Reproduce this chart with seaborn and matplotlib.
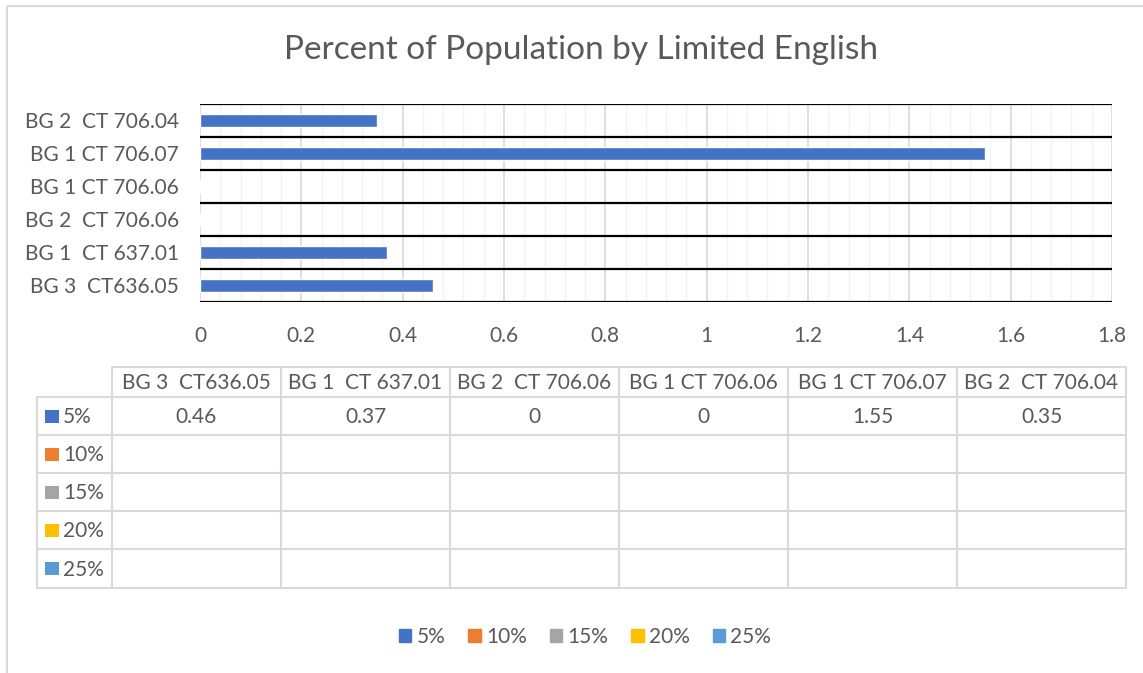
import matplotlib
matplotlib.use("Agg")
import matplotlib.pyplot as plt
from matplotlib.patches import Patch, Rectangle
from matplotlib.ticker import MultipleLocator
import seaborn as sns
import pandas as pd

# Census block groups, in table order (bottom bar first)
tracts = ["BG 3  CT636.05", "BG 1  CT 637.01", "BG 2  CT 706.06",
          "BG 1 CT 706.06", "BG 1 CT 706.07", "BG 2  CT 706.04"]
series_names = ["5%", "10%", "15%", "20%", "25%"]
series_colors = ["#4472C4", "#ED7D31", "#A5A5A5", "#FFC000", "#5B9BD5"]
values_5pct = [0.46, 0.37, 0, 0, 1.55, 0.35]
series_values = {"5%": values_5pct, "10%": [None] * 6, "15%": [None] * 6,
                 "20%": [None] * 6, "25%": [None] * 6}
x_ticks = [0, 0.2, 0.4, 0.6, 0.8, 1, 1.2, 1.4, 1.6, 1.8]

TEXT = "#595959"
GRID = "#D9D9D9"
FONT = "Lato"
FS = 15

sns.set_theme(style="white")
plt.rcParams["font.family"] = [FONT, "DejaVu Sans"]

W, H = 1143, 673
fig = plt.figure(figsize=(W / 100, H / 100), dpi=100)
fig.patch.set_facecolor("white")


def fbox(x0, y0, x1, y1):
    return [x0 / W, 1 - y1 / H, (x1 - x0) / W, (y1 - y0) / H]


# Chart frame and table overlay in pixel coordinates
ov = fig.add_axes([0, 0, 1, 1], zorder=0)
ov.set_xlim(0, W)
ov.set_ylim(H, 0)
ov.axis("off")
ov.add_patch(Rectangle((7, 6), W + 20, H + 20, fill=False, ec=GRID, lw=1.5))

ax = fig.add_axes(fbox(200, 104, 1112, 302), zorder=1)
ax.set_facecolor("none")

df = pd.DataFrame({"tract": tracts, "value": values_5pct})
order = list(reversed(tracts))
sns.barplot(data=df, x="value", y="tract", order=order, orient="h",
            color=series_colors[0], saturation=1, width=0.4, ax=ax,
            errorbar=None, zorder=3)

ax.set_xlim(0, 1.8)
ax.set_ylim(len(tracts) - 0.5, -0.5)
ax.xaxis.set_major_locator(MultipleLocator(0.2))
ax.xaxis.set_minor_locator(MultipleLocator(0.04))
ax.grid(axis="x", which="major", color=GRID, lw=1.2, zorder=1)
ax.grid(axis="x", which="minor", color="#F2F2F2", lw=1.0, zorder=0)
ax.set_axisbelow(True)
for k in range(len(tracts) + 1):
    ax.axhline(k - 0.5, color="black", lw=1.6, zorder=4)
for s in ax.spines.values():
    s.set_visible(False)
ax.set_xticks(x_ticks)
ax.set_xticklabels([f"{t:g}" for t in x_ticks])
ax.tick_params(axis="both", which="both", length=0, colors=TEXT, labelsize=FS)
ax.tick_params(axis="x", pad=17)
ax.tick_params(axis="y", pad=15)
ax.set_xlabel("")
ax.set_ylabel("")

fig.text(581 / W, 1 - 50 / H, "Percent of Population by Limited English",
         ha="center", va="center", fontsize=24, color=TEXT)

# Data table beneath the axis
col_edges = [112 + 169 * i for i in range(len(tracts) + 1)]
row_edges = [367, 397, 435, 473, 511, 549, 588]
label_left = 37
lw_t = 1.5
ov.plot([col_edges[0], col_edges[-1]], [row_edges[0], row_edges[0]], color=GRID, lw=lw_t)
for r in row_edges[1:]:
    ov.plot([label_left, col_edges[-1]], [r, r], color=GRID, lw=lw_t)
for c in col_edges:
    ov.plot([c, c], [row_edges[0], row_edges[-1]], color=GRID, lw=lw_t)
ov.plot([label_left, label_left], [row_edges[1], row_edges[-1]], color=GRID, lw=lw_t)

for i, name in enumerate(tracts):
    cx = (col_edges[i] + col_edges[i + 1]) / 2
    ov.text(cx, (row_edges[0] + row_edges[1]) / 2 + 1, name, ha="center",
            va="center", fontsize=FS, color=TEXT)

for j, (sname, scol) in enumerate(zip(series_names, series_colors)):
    ry = (row_edges[j + 1] + row_edges[j + 2]) / 2
    ov.add_patch(Rectangle((45, ry - 6.5), 14, 13, color=scol, lw=0))
    ov.text(63, ry + 1, sname, ha="left", va="center", fontsize=FS, color=TEXT)
    for i, v in enumerate(series_values[sname]):
        if v is None:
            continue
        cx = (col_edges[i] + col_edges[i + 1]) / 2
        ov.text(cx, ry + 1, f"{v:g}", ha="center", va="center",
                fontsize=FS, color=TEXT)

handles = [Patch(color=c, label=n) for n, c in zip(series_names, series_colors)]
leg = fig.legend(handles=handles, loc="center", bbox_to_anchor=(585 / W, 1 - 637 / H),
                 ncol=5, frameon=False, fontsize=FS, handlelength=0.6,
                 handleheight=0.6, handletextpad=0.25, columnspacing=1.1)
for t in leg.get_texts():
    t.set_color(TEXT)

fig.savefig("out.png", dpi=100, facecolor="white")
